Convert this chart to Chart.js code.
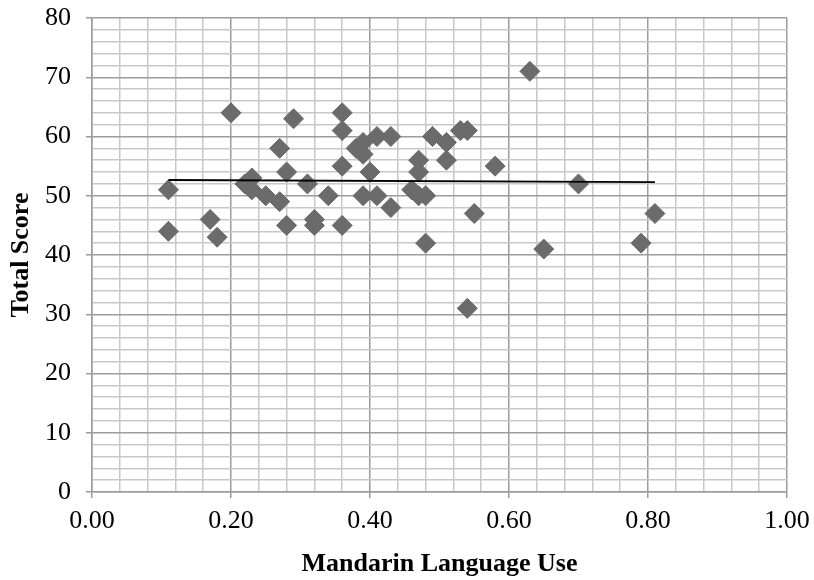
<!DOCTYPE html>
<html>
<head>
<meta charset="utf-8">
<script src="https://cdn.jsdelivr.net/npm/chart.js@4.4.0/dist/chart.umd.min.js"></script>
<style>
    html, body { margin: 0; padding: 0; background: #ffffff; }
    #board { display: block; }
</style>
</head>
<body>
<canvas id="board" width="814" height="580"></canvas>
<script>
// Mandarin language use vs. total score
const languageUse = [
    0.11, 0.11, 0.17, 0.18, 0.20, 0.22, 0.23, 0.23, 0.25, 0.27,
    0.27, 0.28, 0.28, 0.29, 0.31, 0.32, 0.32, 0.34, 0.36, 0.36,
    0.36, 0.36, 0.38, 0.39, 0.39, 0.39, 0.40, 0.41, 0.41, 0.43,
    0.43, 0.46, 0.47, 0.47, 0.47, 0.48, 0.48, 0.49, 0.51, 0.51,
    0.53, 0.54, 0.54, 0.55, 0.58, 0.63, 0.65, 0.70, 0.79, 0.81
];
const totalScore = [
    51, 44, 46, 43, 64, 52, 53, 51, 50, 49,
    58, 54, 45, 63, 52, 46, 45, 50, 64, 61,
    55, 45, 58, 59, 57, 50, 54, 60, 50, 60,
    48, 51, 56, 54, 50, 50, 42, 60, 59, 56,
    61, 61, 31, 47, 55, 71, 41, 52, 42, 47
];

// linear trend line end points
const trendX = [0.11, 0.81];
const trendY = [52.66, 52.3];

const xTickLabels = ['0.00', '0.20', '0.40', '0.60', '0.80', '1.00'];
const yTickLabels = ['0', '10', '20', '30', '40', '50', '60', '70', '80'];

const serif = "'Times New Roman', 'Liberation Serif', serif";
Chart.defaults.font.family = serif;
Chart.defaults.color = '#000000';

function isMajor(value, step) {
    const r = value / step;
    return Math.abs(r - Math.round(r)) < 1e-6;
}

function gridColor(step) {
    return ctx => isMajor(ctx.tick.value, step) ? '#9c9c9c' : '#c8c8c8';
}

function tickColor(step) {
    return ctx => isMajor(ctx.tick.value, step) ? '#9c9c9c' : 'rgba(0,0,0,0)';
}

const points = languageUse.map((v, i) => ({ x: v, y: totalScore[i] }));
const trend = trendX.map((v, i) => ({ x: v, y: trendY[i] }));

const ctx = document.getElementById('board').getContext('2d');
window.myChart = new Chart(ctx, {
    type: 'scatter',
    data: {
        datasets: [{
            type: 'line',
            label: 'Trend',
            data: trend,
            borderColor: '#000000',
            borderWidth: 1.8,
            pointRadius: 0,
            fill: false
        }, {
            label: 'Total Score',
            data: points,
            pointStyle: 'rectRot',
            pointRadius: 10,
            backgroundColor: '#6b6b6b',
            borderColor: '#6b6b6b',
            borderWidth: 1
        }]
    },
    options: {
        responsive: false,
        animation: false,
        layout: {
            padding: { top: 18, right: 27, left: 0, bottom: 0 }
        },
        plugins: {
            legend: { display: false },
            tooltip: { enabled: false }
        },
        scales: {
            x: {
                type: 'linear',
                min: 0,
                max: 1,
                afterFit: scale => {
                    scale.height = 88;
                    scale.paddingLeft = 0;
                    scale.paddingRight = 0;
                },
                ticks: {
                    stepSize: 0.04,
                    autoSkip: false,
                    maxRotation: 0,
                    padding: 8,
                    font: { size: 26 },
                    callback: v => isMajor(v, 0.2) ? xTickLabels[Math.round(v / 0.2)] : ''
                },
                grid: {
                    color: gridColor(0.2),
                    lineWidth: 1.5,
                    tickColor: tickColor(0.2),
                    tickLength: 6
                },
                border: { color: '#9c9c9c', width: 1.5 },
                title: {
                    display: true,
                    text: 'Mandarin Language Use',
                    font: { size: 26, weight: 'bold' },
                    padding: { top: 0, bottom: 0 }
                }
            },
            y: {
                min: 0,
                max: 80,
                afterFit: scale => {
                    scale.width = 92;
                    scale.paddingTop = 0;
                    scale.paddingBottom = 0;
                },
                ticks: {
                    stepSize: 2,
                    autoSkip: false,
                    padding: 15,
                    font: { size: 26 },
                    callback: v => isMajor(v, 10) ? yTickLabels[Math.round(v / 10)] : ''
                },
                grid: {
                    color: gridColor(10),
                    lineWidth: 1.5,
                    tickColor: tickColor(10),
                    tickLength: 6
                },
                border: { color: '#9c9c9c', width: 1.5 },
                title: {
                    display: true,
                    text: 'Total Score',
                    font: { size: 26, weight: 'bold' },
                    padding: { top: 6, bottom: 0 }
                }
            }
        }
    }
});
</script>
</body>
</html>
